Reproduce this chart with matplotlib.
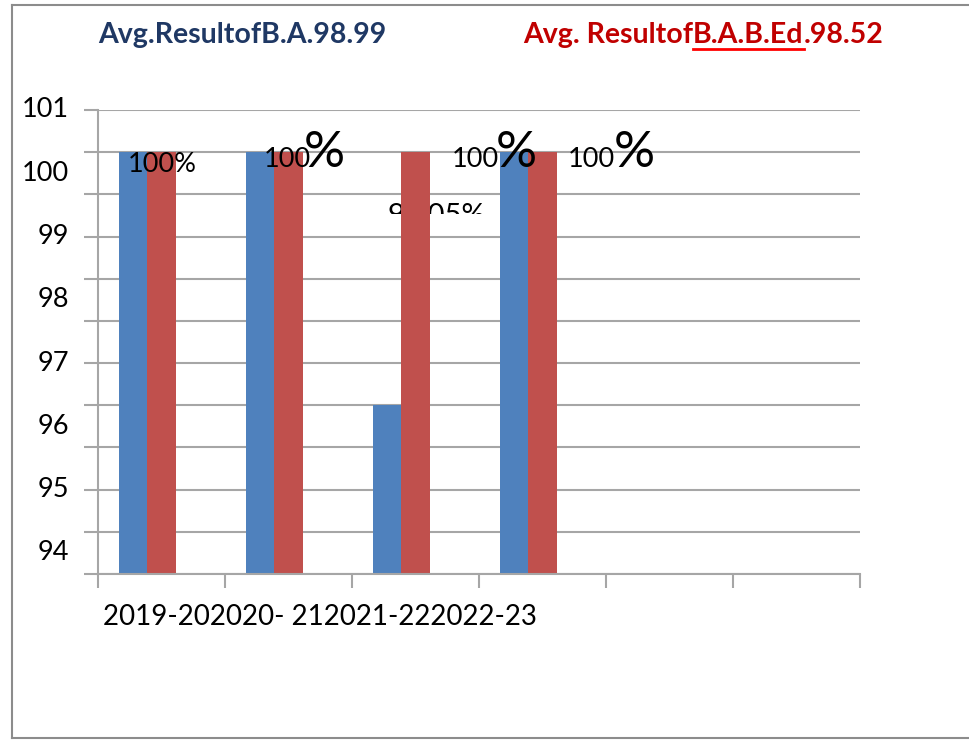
import numpy as np
import matplotlib
matplotlib.use("Agg")
import matplotlib.pyplot as plt
from matplotlib.lines import Line2D
from matplotlib.transforms import Bbox, blended_transform_factory

# ----------------------------
# Data
# ----------------------------
categories = ["2019-20", "2020- 21", "2021-22", "2022-23"]
ba_result = [100, 100, 96, 100]
babed_result = [100, 100, 100, 100]
slots = 6  # the axis has room for six years, only four are filled

y_labels = [94, 95, 96, 97, 98, 99, 100, 101]
title_ba = "Avg.ResultofB.A.98.99"
title_babed_1 = "Avg. Resultof"
title_babed_2 = "B.A.B.Ed"
title_babed_3 = ".98.52"

blue = "#4F81BD"
red = "#C0504D"
grid_col = "#A6A6A6"
font = "Lato"

W, H = 969, 744
fig = plt.figure(figsize=(W / 100, H / 100), dpi=100)
plt.rcParams["font.family"] = [font, "DejaVu Sans"]

# outer frame of the pasted chart
fig.add_artist(Line2D([12 / W, 12 / W], [1 - 738 / H, 1 - 5 / H], color="#8C8C8C", lw=1.5))
fig.add_artist(Line2D([12 / W, 1.0], [1 - 5 / H, 1 - 5 / H], color="#8C8C8C", lw=1.5))
fig.add_artist(Line2D([12 / W, 1.0], [1 - 738 / H, 1 - 738 / H], color="#8C8C8C", lw=1.5))

left, right, top, bottom = 98, 860, 110, 574
ax = fig.add_axes([left / W, 1 - bottom / H, (right - left) / W, (bottom - top) / H])

ymin, step = 93 + 1 / 3, 2 / 3
ax.set_ylim(ymin, ymin + 11 * step)
ax.set_xlim(-0.5, slots - 0.5)

x = np.arange(len(categories))
w = 0.225
ax.bar(x - w, ba_result, width=w, bottom=0, color=blue, zorder=2)
ax.bar(x, babed_result, width=w, bottom=0, color=red, zorder=2)

# grid lines with small outward ticks
grid_pos = [ymin + k * step for k in range(12)]
ax.set_yticks(grid_pos)
ax.set_yticklabels([])
ax.tick_params(axis="y", length=10, width=1.5, color=grid_col, direction="out")
ax.yaxis.grid(True, color=grid_col, lw=1.5, zorder=0)
ax.set_axisbelow(True)

# y labels sit a little off the grid lines, like in the source
ytr = blended_transform_factory(ax.transAxes, ax.transData)
for v in y_labels:
    ax.text(-29 / (right - left), v - 1 / 3, str(v), transform=ytr, fontsize=19.5,
            ha="right", va="center", clip_on=False)

ax.set_xticks(np.arange(slots + 1) - 0.5)
ax.set_xticklabels([])
ax.tick_params(axis="x", length=10, width=1.5, color=grid_col, direction="out")

for s in ["top", "right"]:
    ax.spines[s].set_visible(False)
for s in ["left", "bottom"]:
    ax.spines[s].set_color(grid_col)
    ax.spines[s].set_linewidth(1.5)

# category labels run together under the first bars
fig.text(103 / W, 1 - 617 / H, "".join(categories), fontsize=20, ha="left", va="center")


def label(txt, i, dx, dy, size, z=3):
    return ax.annotate(txt, (x[i] + dx, babed_result[i]), xytext=(0, dy), textcoords="offset points",
                       fontsize=size, ha="left", va="baseline", zorder=z)


# data labels
label("100%", 0, -0.264, -14.4, 19.5)
label("100", 1, -0.195, -10.8, 19.5)
label("%", 1, 0.122, -10.8, 37)
t = label("93.05%", 2, -0.217, -51.5, 21, z=1)
t.set_clip_box(Bbox.from_extents(0, H - 214, W, H))
t.set_clip_on(True)
label("100", 3, -0.713, -10.8, 19.5)
label("%", 3, -0.37, -10.8, 37)
label("100", 3, 0.2, -10.8, 19.5)
label("%", 3, 0.56, -10.8, 37)

# titles
fig.text(98 / W, 1 - 35 / H, title_ba, color="#1F3864", fontsize=20.5, fontweight="bold",
         ha="left", va="center")
t1 = fig.text(523 / W, 1 - 35 / H, title_babed_1, color="#C00000", fontsize=20.5, fontweight="bold",
              ha="left", va="center")
fig.canvas.draw()
r = fig.canvas.get_renderer()
bb1 = t1.get_window_extent(r)
t2 = fig.text(bb1.x1 / W, 1 - 35 / H, title_babed_2, color="#C00000", fontsize=20.5, fontweight="bold",
              ha="left", va="center")
bb2 = t2.get_window_extent(r)
fig.text(bb2.x1 / W, 1 - 35 / H, title_babed_3, color="#C00000", fontsize=20.5, fontweight="bold",
         ha="left", va="center")
fig.add_artist(Line2D([bb2.x0 / W, bb2.x1 / W], [1 - 49 / H, 1 - 49 / H], color="#FF0000", lw=2))

fig.savefig("out.png", dpi=100)
